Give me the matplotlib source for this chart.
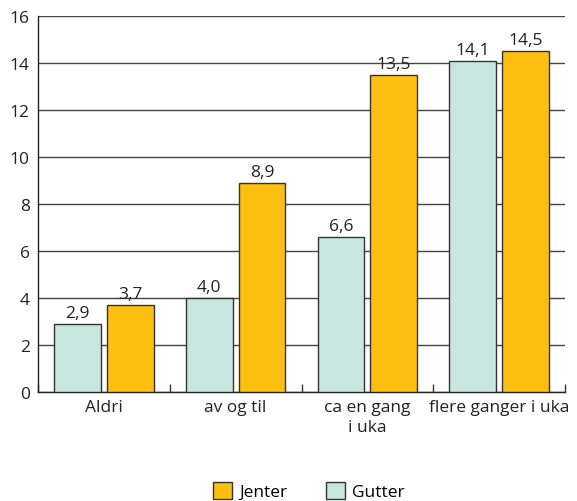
import matplotlib
matplotlib.use("Agg")
import matplotlib.pyplot as plt
import numpy as np

categories = ["Aldri", "av og til", "ca en gang\ni uka", "flere ganger i uka"]
gutter = [2.9, 4.0, 6.6, 14.1]
jenter = [3.7, 8.9, 13.5, 14.5]
yticks = [0, 2, 4, 6, 8, 10, 12, 14, 16]

plt.rcParams['font.family'] = ['Open Sans', 'DejaVu Sans']

fig = plt.figure(figsize=(5.77, 5.02), dpi=100)
ax = fig.add_axes([38/577, 109/502, 527/577, 376/502])

x = np.arange(len(categories))
w = 0.355
off = 0.2
c_g = "#C7E6DD"
c_j = "#FDC010"
ec = "#333333"
fs = 12.5
bg = ax.bar(x - off, gutter, w, color=c_g, edgecolor=ec, linewidth=1, label="Gutter", zorder=3)
bj = ax.bar(x + off, jenter, w, color=c_j, edgecolor=ec, linewidth=1, label="Jenter", zorder=3)

fmt = lambda v: f"{v:.1f}".replace(".", ",")
for bars, vals in ((bg, gutter), (bj, jenter)):
    for b, v in zip(bars, vals):
        ax.annotate(fmt(v), (b.get_x() + b.get_width()/2, v), xytext=(0, 2),
                    textcoords="offset points", ha="center", va="bottom",
                    fontsize=fs, color="#222222")

ax.set_xlim(-0.5, len(categories) - 0.5)
ax.set_ylim(0, 16)
ax.set_yticks(yticks)
ax.set_yticklabels([str(t) for t in yticks])
ax.yaxis.grid(True, color="#444444", linewidth=1, zorder=0)
ax.set_axisbelow(True)
ax.tick_params(axis="y", length=0, labelsize=fs, pad=6, colors="#222222")

ax.set_xticks(x)
ax.set_xticklabels(categories, fontsize=fs, color="#222222", linespacing=1.3)
ax.tick_params(axis="x", which="major", length=0, pad=5)
ax.set_xticks(np.arange(len(categories) + 1) - 0.5, minor=True)
ax.tick_params(axis="x", which="minor", length=6, direction="in", color="#333333", width=1)

for s in ("top", "right"):
    ax.spines[s].set_visible(False)
for s in ("left", "bottom"):
    ax.spines[s].set_color("#222222")
    ax.spines[s].set_linewidth(1)

handles = [bj, bg]
leg = fig.legend(handles, ["Jenter", "Gutter"], loc="center", bbox_to_anchor=(0.535, 0.02),
                 ncol=2, frameon=False, fontsize=fs, handlelength=1.1, handleheight=1.1,
                 columnspacing=2.2, handletextpad=0.4)

fig.savefig("out.png", dpi=100)
